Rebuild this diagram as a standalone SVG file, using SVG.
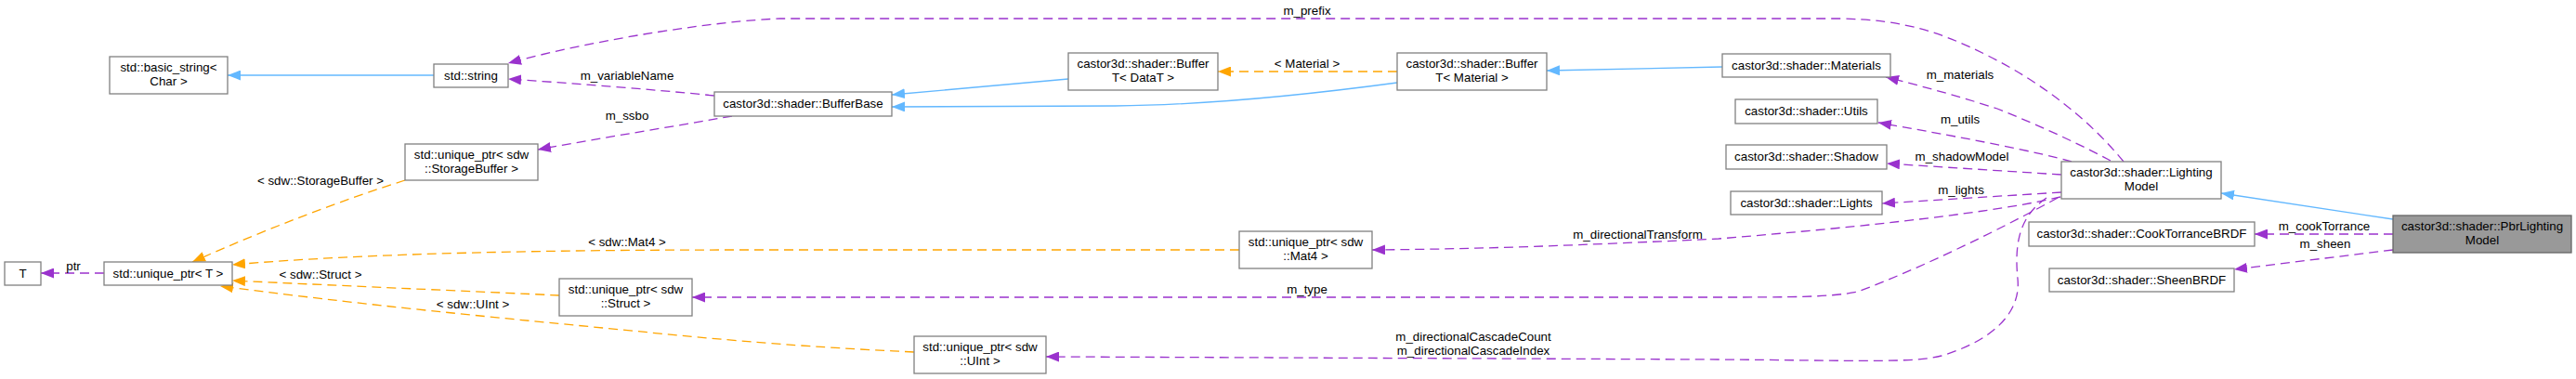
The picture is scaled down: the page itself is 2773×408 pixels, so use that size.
<svg xmlns="http://www.w3.org/2000/svg" width="2773" height="408" viewBox="0 0 2773 408">
<style>
text{font-family:"Liberation Sans",Arial,sans-serif;font-size:13.33px;fill:#000;text-anchor:middle}
.n rect{fill:#fff;stroke:#808080;stroke-width:1.3}
.n.h rect{fill:#999;stroke:#666}
.e path{fill:none;stroke-width:1.3}
.p{stroke:#9a32cd;stroke-dasharray:10,6;marker-end:url(#ap)}
.o{stroke:#ffa500;stroke-dasharray:10,6;marker-end:url(#ao)}
.b{stroke:#63b8ff;marker-end:url(#ab)}
</style>
<defs>
<marker id="ap" markerWidth="15" markerHeight="11" refX="14" refY="5.5" orient="auto" markerUnits="userSpaceOnUse"><path d="M0,0 L14,5.5 L0,11 z" fill="#9a32cd"/></marker>
<marker id="ao" markerWidth="15" markerHeight="11" refX="14" refY="5.5" orient="auto" markerUnits="userSpaceOnUse"><path d="M0,0 L14,5.5 L0,11 z" fill="#ffa500"/></marker>
<marker id="ab" markerWidth="15" markerHeight="11" refX="14" refY="5.5" orient="auto" markerUnits="userSpaceOnUse"><path d="M0,0 L14,5.5 L0,11 z" fill="#63b8ff"/></marker>
</defs>
<rect width="2773" height="408" fill="#fff"/>
<g id="edges" class="e">
<path class="b" d="M2576,236 L2391,208"/>
<path class="p" d="M2576,252 L2427,252"/>
<path class="p" d="M2576,269 L2405,290"/>
<path class="p" d="M2272,173 C2240,156 2200,137 2150,117 C2110,104 2070,93 2030,83"/>
<path class="p" d="M2230,174 C2190,163 2130,151 2022,132"/>
<path class="p" d="M2219,188 L2031,176"/>
<path class="p" d="M2219,207 L2026,219"/>
<path class="p" d="M2286,174 C2250,130 2200,90 2140,60 C2090,35 2050,21 1980,20 L840,20 C780,22 650,40 547,68"/>
<path class="p" d="M2218,212 C2150,228 2020,243 1850,257 C1700,264 1600,268 1477,269"/>
<path class="p" d="M2215,213 C2180,232 2090,280 2000,314 C1970,320 1930,320 1850,320 L745,320"/>
<path class="p" d="M2203,213 C2175,232 2168,260 2172,300 C2176,340 2140,368 2090,383 C2060,391 2000,388 1850,387 L1126,384"/>
<path class="o" d="M1504,77 L1311,77"/>
<path class="b" d="M1504,89 C1400,103 1300,113 1200,114 L960,115"/>
<path class="b" d="M1150,85 L960,102"/>
<path class="b" d="M1854,72 L1665,76"/>
<path class="p" d="M769,103 C700,96 620,90 547,85"/>
<path class="p" d="M788,125 C720,137 650,148 579,161"/>
<path class="b" d="M467,81 L245,81"/>
<path class="o" d="M436,194 C370,215 290,245 207,282"/>
<path class="o" d="M1334,269 L800,269 C600,269 400,272 250,285"/>
<path class="o" d="M602,318 C520,314 420,310 250,302"/>
<path class="o" d="M984,379 C900,375 820,370 700,358 C580,346 420,332 237,308"/>
<path class="p" d="M112,294 L44,294"/>
<text x="2502" y="248">m_cookTorrance</text>
<text x="2503" y="267">m_sheen</text>
<text x="2110" y="85">m_materials</text>
<text x="2110" y="133">m_utils</text>
<text x="2112" y="173">m_shadowModel</text>
<text x="2111" y="209">m_lights</text>
<text x="1407" y="16">m_prefix</text>
<text x="1763" y="257">m_directionalTransform</text>
<text x="1407" y="316">m_type</text>
<text x="1586" y="367">m_directionalCascadeCount</text>
<text x="1586" y="382">m_directionalCascadeIndex</text>
<text x="1407" y="73">&lt; Material &gt;</text>
<text x="675" y="86">m_variableName</text>
<text x="675" y="129">m_ssbo</text>
<text x="345" y="199">&lt; sdw::StorageBuffer &gt;</text>
<text x="675" y="265">&lt; sdw::Mat4 &gt;</text>
<text x="345" y="300">&lt; sdw::Struct &gt;</text>
<text x="509" y="332">&lt; sdw::UInt &gt;</text>
<text x="79" y="291">ptr</text>
</g>
<g id="pbr" class="n h"><rect x="2576" y="232" width="192" height="40"/><text x="2672" y="248">castor3d::shader::PbrLighting</text><text x="2672" y="263">Model</text></g>
<g id="lighting" class="n"><rect x="2219" y="174" width="172" height="40"/><text x="2305" y="190">castor3d::shader::Lighting</text><text x="2305" y="205">Model</text></g>
<g id="materials" class="n"><rect x="1854" y="58" width="181" height="25"/><text x="1944.5" y="75">castor3d::shader::Materials</text></g>
<g id="utils" class="n"><rect x="1868" y="107" width="153" height="26"/><text x="1944.5" y="124">castor3d::shader::Utils</text></g>
<g id="shadow" class="n"><rect x="1858" y="156" width="173" height="26"/><text x="1944.5" y="173">castor3d::shader::Shadow</text></g>
<g id="lights" class="n"><rect x="1863" y="206" width="163" height="25"/><text x="1944.5" y="223">castor3d::shader::Lights</text></g>
<g id="cooktorrance" class="n"><rect x="2184" y="239" width="243" height="26"/><text x="2305.5" y="256">castor3d::shader::CookTorranceBRDF</text></g>
<g id="sheen" class="n"><rect x="2206" y="289" width="199" height="25"/><text x="2305.5" y="306">castor3d::shader::SheenBRDF</text></g>
<g id="buffermaterial" class="n"><rect x="1504" y="57" width="161" height="40"/><text x="1584.5" y="73">castor3d::shader::Buffer</text><text x="1584.5" y="88">T&lt; Material &gt;</text></g>
<g id="bufferdatat" class="n"><rect x="1150" y="57" width="161" height="40"/><text x="1230.5" y="73">castor3d::shader::Buffer</text><text x="1230.5" y="88">T&lt; DataT &gt;</text></g>
<g id="bufferbase" class="n"><rect x="769" y="99" width="191" height="26"/><text x="864.5" y="116">castor3d::shader::BufferBase</text></g>
<g id="string" class="n"><rect x="467" y="69" width="80" height="25"/><text x="507" y="86">std::string</text></g>
<g id="basicstring" class="n"><rect x="118" y="61" width="127" height="40"/><text x="181.5" y="77">std::basic_string&lt;</text><text x="181.5" y="92">Char &gt;</text></g>
<g id="uptrstorage" class="n"><rect x="436" y="155" width="143" height="39"/><text x="507.5" y="171">std::unique_ptr&lt; sdw</text><text x="507.5" y="186">::StorageBuffer &gt;</text></g>
<g id="uptrt" class="n"><rect x="112" y="282" width="138" height="25"/><text x="181" y="299">std::unique_ptr&lt; T &gt;</text></g>
<g id="t" class="n"><rect x="5" y="282" width="39" height="25"/><text x="24.5" y="299">T</text></g>
<g id="uptrmat4" class="n"><rect x="1334" y="249" width="143" height="40"/><text x="1405.5" y="265">std::unique_ptr&lt; sdw</text><text x="1405.5" y="280">::Mat4 &gt;</text></g>
<g id="uptrstruct" class="n"><rect x="602" y="300" width="143" height="40"/><text x="673.5" y="316">std::unique_ptr&lt; sdw</text><text x="673.5" y="331">::Struct &gt;</text></g>
<g id="uptruint" class="n"><rect x="984" y="362" width="142" height="40"/><text x="1055" y="378">std::unique_ptr&lt; sdw</text><text x="1055" y="393">::UInt &gt;</text></g>
</svg>
